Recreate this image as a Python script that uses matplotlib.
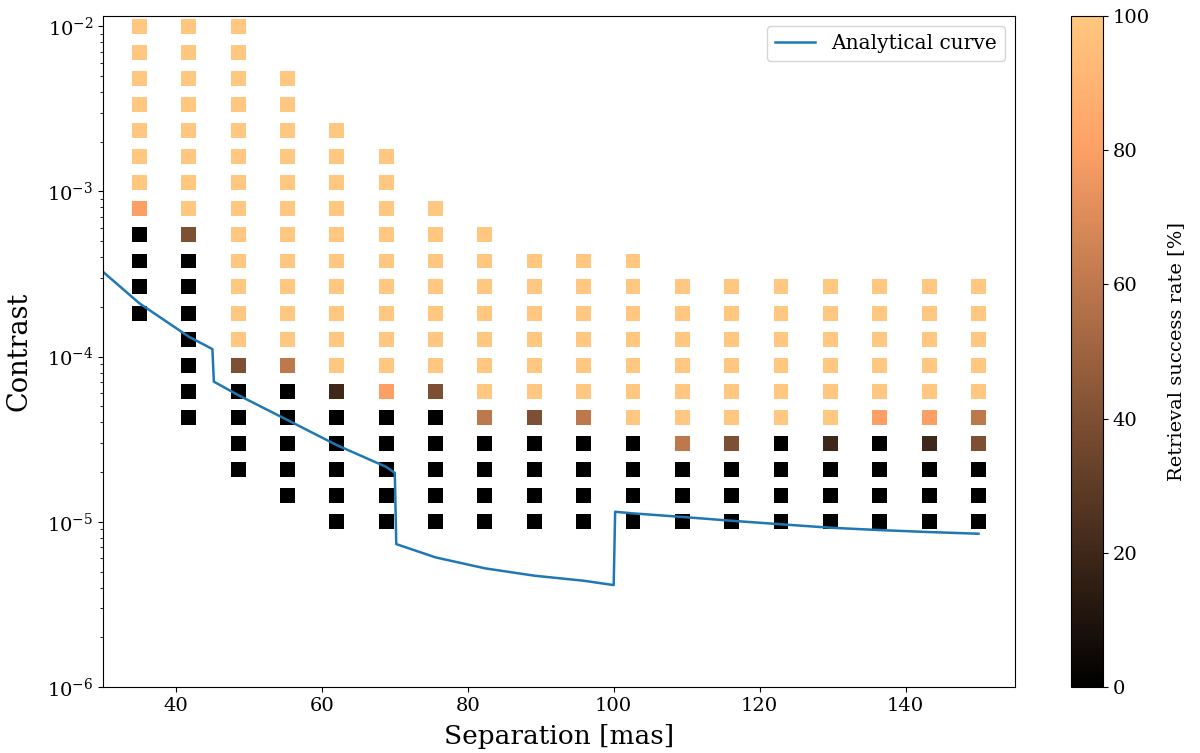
import matplotlib.pyplot as plt
import numpy as np

plt.rcParams['font.family'] = 'DejaVu Serif'
plt.rcParams['mathtext.fontset'] = 'dejavuserif'

# injected separations [mas] and contrast grid of the retrieval test
separations = [35.0, 41.76, 48.53, 55.29, 62.06, 68.82, 75.59, 82.35, 89.12,
               95.88, 102.65, 109.41, 116.18, 122.94, 129.71, 136.47, 143.24, 150.0]
contrasts = [1.00e-5, 1.44e-5, 2.07e-5, 2.98e-5, 4.28e-5, 6.16e-5, 8.86e-5,
             1.27e-4, 1.83e-4, 2.64e-4, 3.79e-4, 5.46e-4, 7.85e-4, 1.13e-3,
             1.62e-3, 2.34e-3, 3.36e-3, 4.83e-3, 6.95e-3, 1.00e-2]

# lowest contrast index tested at each separation
first_row = [8, 4, 2, 1, 0, 0, 0, 0, 0, 0, 0, 0, 0, 0, 0, 0, 0, 0]
# success rate [%] from the lowest tested contrast upward
success = [
    [0, 0, 0, 0, 80, 100, 100, 100, 100, 100, 100, 100],
    [0, 0, 0, 0, 0, 0, 0, 40, 100, 100, 100, 100, 100, 100, 100, 100],
    [0, 0, 0, 0, 40, 100, 100, 100, 100, 100, 100, 100, 100, 100, 100, 100, 100, 100],
    [0, 0, 0, 0, 0, 60, 100, 100, 100, 100, 100, 100, 100, 100, 100, 100, 100],
    [0, 0, 0, 0, 0, 20, 100, 100, 100, 100, 100, 100, 100, 100, 100, 100],
    [0, 0, 0, 0, 0, 80, 100, 100, 100, 100, 100, 100, 100, 100, 100],
    [0, 0, 0, 0, 0, 40, 100, 100, 100, 100, 100, 100, 100],
    [0, 0, 0, 0, 60, 100, 100, 100, 100, 100, 100, 100],
    [0, 0, 0, 0, 40, 100, 100, 100, 100, 100, 100],
    [0, 0, 0, 0, 60, 100, 100, 100, 100, 100, 100],
    [0, 0, 0, 0, 100, 100, 100, 100, 100, 100, 100],
    [0, 0, 0, 60, 100, 100, 100, 100, 100, 100],
    [0, 0, 0, 40, 100, 100, 100, 100, 100, 100],
    [0, 0, 0, 0, 100, 100, 100, 100, 100, 100],
    [0, 0, 0, 20, 100, 100, 100, 100, 100, 100],
    [0, 0, 0, 0, 80, 100, 100, 100, 100, 100],
    [0, 0, 0, 20, 80, 100, 100, 100, 100, 100],
    [0, 0, 0, 40, 60, 100, 100, 100, 100, 100],
]

# analytical detection limit
curve_sep = [30, 35, 41.76, 45.0, 45.2, 48.53, 55.29, 62.06, 68.82, 70.0,
             70.2, 75.59, 82.35, 89.12, 95.88, 100.0, 100.2, 102.65, 109.41,
             116.18, 122.94, 129.71, 136.47, 143.24, 150.0]
curve_contrast = [3.26e-4, 2.10e-4, 1.32e-4, 1.11e-4, 7.05e-5, 5.85e-5, 4.13e-5,
                  2.91e-5, 2.15e-5, 1.98e-5, 7.33e-6, 6.09e-6, 5.23e-6, 4.72e-6,
                  4.40e-6, 4.14e-6, 1.15e-5, 1.125e-5, 1.07e-5, 1.015e-5, 9.66e-6,
                  9.21e-6, 8.91e-6, 8.67e-6, 8.47e-6]

xs, ys, cs = [], [], []
for sep, start, rates in zip(separations, first_row, success):
    for i, r in enumerate(rates):
        xs.append(sep)
        ys.append(contrasts[start + i])
        cs.append(r)

fig = plt.figure(figsize=(12, 7.53), dpi=100)
ax = fig.add_axes([0.0858, 0.0876, 0.76, 0.891])
cax = fig.add_axes([0.8925, 0.0876, 0.0267, 0.891])

sc = ax.scatter(xs, ys, c=cs, cmap='copper', vmin=0, vmax=100, marker='s',
                s=115, linewidths=0)
ax.plot(curve_sep, curve_contrast, color='C0', lw=1.8, label='Analytical curve')

ax.set_yscale('log')
ax.set_xlim(30, 155)
ax.set_ylim(1e-6, 1.15e-2)
ax.set_xlabel('Separation [mas]', fontsize=19, labelpad=7)
ax.set_ylabel('Contrast', fontsize=19.5, labelpad=10)
ax.tick_params(labelsize=14)
ax.legend(loc='upper right', fontsize=14.5)

cb = fig.colorbar(sc, cax=cax)
cb.set_label('Retrieval success rate [%]', fontsize=14, labelpad=12)
cb.ax.tick_params(labelsize=14)

plt.savefig('out.png', dpi=100)
